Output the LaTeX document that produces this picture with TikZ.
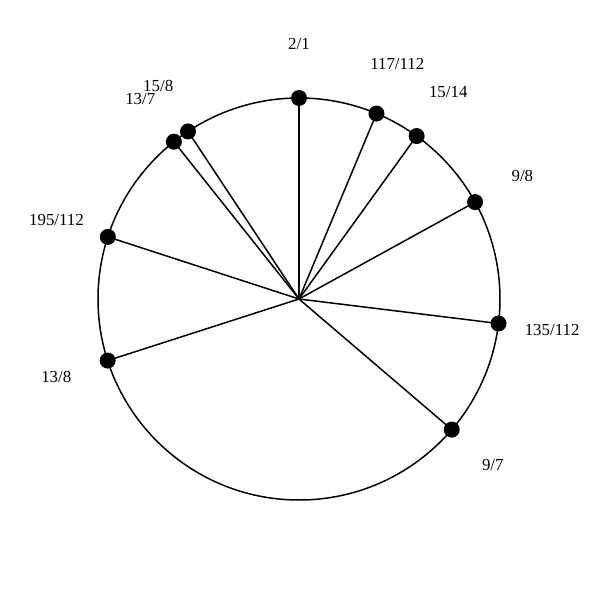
\documentclass[tikz,border=0pt]{standalone}
\usepackage{fontspec}
\setmainfont{Liberation Serif}
\begin{document}
\begin{tikzpicture}[x=0.02cm,y=0.02cm,
  ring/.style={line width=0.85pt},
  spoke/.style={line width=0.85pt},
  dot/.style={circle,fill=black,inner sep=0pt,minimum size=0.32cm},
  lab/.style={inner sep=0pt,font=\fontsize{9.6}{11}\selectfont}]
\useasboundingbox (0,0) rectangle (600,600);
\begin{scope}[shift={(299,301)}]
\coordinate (c) at (0,0);
\draw[ring] (c) circle (201);
\foreach \n/\a/\t in {a/90/2\slash 1, b/67.32/117\slash 112, d/54.17/15\slash 14, e/28.83/9\slash 8, f/-7.0/135\slash 112, g/-40.53/9\slash 7, h/-162.16/13\slash 8, i/162/195\slash 112, j/128.49/13\slash 7, k/123.52/15\slash 8}{
  \node[dot] (\n) at (\a:201) {};
  \draw[spoke] (c) -- (\n.center);
  \node[lab] (l\n) at (\a:255) {\t};
}
\end{scope}
\end{tikzpicture}
\end{document}
